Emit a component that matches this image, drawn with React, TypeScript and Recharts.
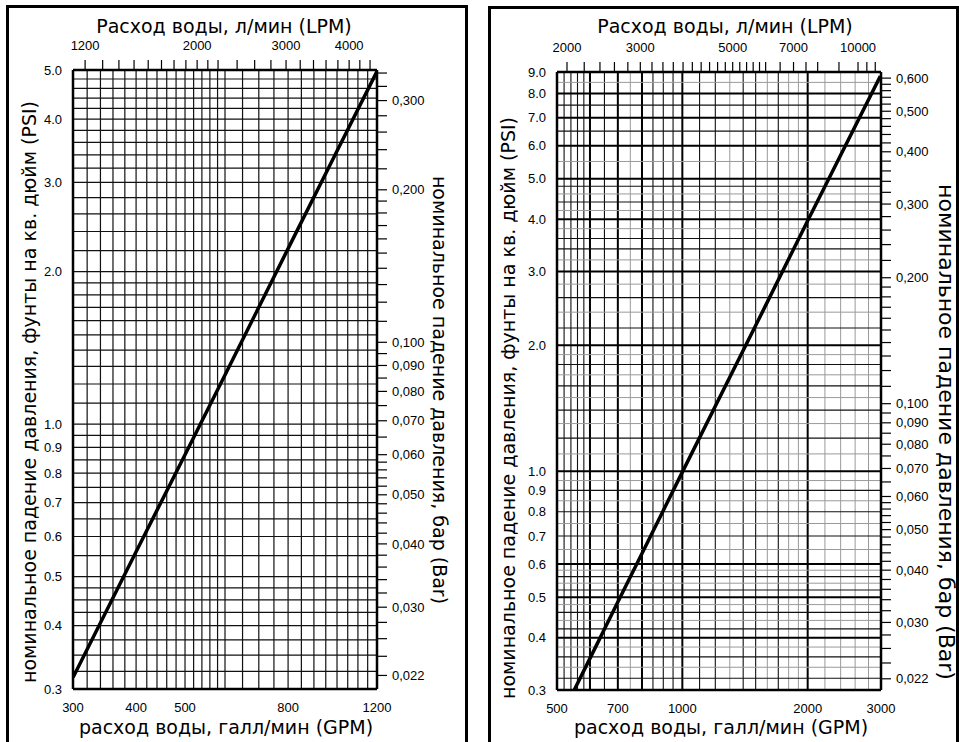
import React from 'react';
import { Line, LineChart, ReferenceLine, XAxis, YAxis } from 'recharts';

const LPM_PER_GPM = 3.785;
const BAR_PER_PSI = 0.0689476;

// ---- left chart (300–1200 GPM)
const flowA = [300, 400, 500, 600, 800, 1000, 1200];
const dropA = [0.316, 0.56, 0.87, 1.25, 2.22, 3.46, 4.97];
const gpmTicksA = [300, 400, 500, 800, 1200];
const psiTicksA = [0.3, 0.4, 0.5, 0.6, 0.7, 0.8, 0.9, 1.0, 2.0, 3.0, 4.0, 5.0];
const lpmTicksA = [
  1200, 1300, 1400, 1500, 1600, 1700, 1800, 1900, 2000, 2100, 2200, 2400, 2600, 2800, 3000,
  3200, 3400, 3600, 3800, 4000, 4200, 4400,
];
const lpmLabelsA = [1200, 2000, 3000, 4000];
const barTicksA = [
  0.022, 0.024, 0.026, 0.028, 0.03, 0.032, 0.034, 0.036, 0.038, 0.04, 0.042, 0.044, 0.046,
  0.048, 0.05, 0.052, 0.054, 0.056, 0.058, 0.06, 0.065, 0.07, 0.075, 0.08, 0.085, 0.09, 0.095,
  0.1, 0.11, 0.12, 0.13, 0.14, 0.15, 0.16, 0.17, 0.18, 0.19, 0.2, 0.22, 0.24, 0.26, 0.28, 0.3,
  0.32, 0.34,
];
const barLabelsA = [0.022, 0.03, 0.04, 0.05, 0.06, 0.07, 0.08, 0.09, 0.1, 0.2, 0.3];
const gridXA = [
  320, 340, 360, 380, 400, 420, 440, 460, 480, 500, 520, 540, 560, 580, 600, 650, 700, 750, 800,
  850, 900, 950, 1000, 1050, 1100, 1150,
];
const gridYA = [
  0.325, 0.35, 0.375, 0.4, 0.425, 0.45, 0.475, 0.5, 0.55, 0.6, 0.65, 0.7, 0.75, 0.8, 0.85, 0.9,
  0.95, 1.0, 1.1, 1.2, 1.3, 1.4, 1.5, 1.6, 1.7, 1.8, 1.9, 2.0, 2.2, 2.4, 2.6, 2.8, 3.0, 3.2, 3.4,
  3.6, 3.8, 4.0, 4.2, 4.4, 4.6, 4.8,
];

// ---- right chart (500–3000 GPM)
const flowB = [550, 600, 700, 800, 1000, 1500, 2000, 2990];
const dropB = [0.3, 0.357, 0.487, 0.636, 0.995, 2.23, 3.97, 8.8];
const gpmTicksB = [500, 700, 1000, 2000, 3000];
const psiTicksB = [0.3, 0.4, 0.5, 0.6, 0.7, 0.8, 0.9, 1.0, 2.0, 3.0, 4.0, 5.0, 6.0, 7.0, 8.0, 9.0];
const lpmTicksB = [
  2000, 2200, 2400, 2600, 2800, 3000, 3200, 3400, 3600, 3800, 4000, 4200, 4400, 4600, 4800,
  5000, 5200, 5400, 5600, 5800, 6000, 6500, 7000, 7500, 8000, 9000, 10000, 10500, 11000,
];
const lpmLabelsB = [2000, 3000, 5000, 7000, 10000];
const barTicksB = [
  0.022, 0.024, 0.026, 0.028, 0.03, 0.032, 0.034, 0.036, 0.038, 0.04, 0.042, 0.044, 0.046,
  0.048, 0.05, 0.052, 0.054, 0.056, 0.058, 0.06, 0.065, 0.07, 0.075, 0.08, 0.085, 0.09, 0.095,
  0.1, 0.11, 0.12, 0.13, 0.14, 0.15, 0.16, 0.17, 0.18, 0.19, 0.2, 0.22, 0.24, 0.26, 0.28, 0.3,
  0.32, 0.34, 0.36, 0.38, 0.4, 0.42, 0.44, 0.46, 0.48, 0.5, 0.52, 0.54, 0.56, 0.58, 0.6,
];
const barLabelsB = [0.022, 0.03, 0.04, 0.05, 0.06, 0.07, 0.08, 0.09, 0.1, 0.2, 0.3, 0.4, 0.5, 0.6];
const gridXBHeavy = [600, 700, 800, 1000, 2000];
const gridXBMid = [520, 540, 560, 580, 650, 850, 900, 950, 1100, 1200, 1400, 1500, 1700];
const gridXBLight = [750, 1300, 1600, 1800, 1900, 2200, 2400, 2600, 2800];
const gridYBHeavy = [0.4, 0.5, 0.6, 1.0, 2.0, 3.0, 4.0, 5.0, 6.0, 7.0, 8.0];
const gridYBMid = [
  0.32, 0.36, 0.42, 0.46, 0.52, 0.56, 0.7, 0.8, 0.9, 1.2, 1.4, 1.6, 1.8, 2.2, 2.6, 3.4, 3.6, 4.4,
  4.8, 6.5, 7.5,
];
const gridYBLight = [
  0.34, 0.38, 0.44, 0.48, 0.54, 0.58, 0.65, 0.75, 0.85, 0.95, 1.1, 1.3, 1.5, 1.7, 1.9, 2.4, 2.8,
  3.2, 3.8, 4.2, 4.6, 5.5, 8.5,
];

const tickFont = { fontSize: 13, fill: '#000', fontFamily: '"Liberation Sans", Arial, sans-serif' };
const topFont = { fontSize: 13, fill: '#000', fontFamily: '"Liberation Sans Narrow", "Liberation Sans", Arial, sans-serif' };
const titleFont: React.CSSProperties = {
  position: 'absolute',
  fontFamily: '"DejaVu Sans", Verdana, sans-serif',
  fontSize: 19,
  color: '#000',
  whiteSpace: 'nowrap',
  lineHeight: 1,
};
const border = { stroke: '#000', strokeWidth: 2.5 };
const tickStroke = { stroke: '#000', strokeWidth: 1.2 };

const fmt1 = (v: number) => v.toFixed(1);
const fmtBar = (labels: number[]) => (v: number) =>
  labels.some((l) => Math.abs(l - v) < 1e-9) ? v.toFixed(3).replace('.', ',') : '';
const fmtSome = (labels: number[]) => (v: number) => (labels.includes(v) ? String(v) : '');

type GridLine = { v: number; stroke: string; w: number };

function Panel(props: {
  width: number;
  margin: { top: number; right: number; bottom: number; left: number };
  leftWidth: number;
  flow: number[];
  drop: number[];
  gpmDomain: [number, number];
  psiDomain: [number, number];
  gpmTicks: number[];
  psiTicks: number[];
  lpmTicks: number[];
  lpmLabels: number[];
  barTicks: number[];
  barLabels: number[];
  vLines: GridLine[];
  hLines: GridLine[];
}) {
  const data = props.flow.map((g, i) => ({ gpm: g, lpm: g * LPM_PER_GPM, psi: props.drop[i] }));
  const [g0, g1] = props.gpmDomain;
  const [p0, p1] = props.psiDomain;
  return (
    <LineChart width={props.width} height={742} data={data} margin={props.margin}>
      {props.vLines.map((l) => (
        <ReferenceLine
          key={'v' + l.v}
          x={l.v}
          xAxisId="gpm"
          yAxisId="psi"
          stroke={l.stroke}
          strokeWidth={l.w}
        />
      ))}
      {props.hLines.map((l) => (
        <ReferenceLine
          key={'h' + l.v}
          y={l.v}
          xAxisId="gpm"
          yAxisId="psi"
          stroke={l.stroke}
          strokeWidth={l.w}
        />
      ))}
      {/* invisible twin so the LPM axis gets its own scale */}
      <Line
        xAxisId="lpm"
        yAxisId="psi"
        dataKey="psi"
        stroke="none"
        dot={false}
        activeDot={false}
        isAnimationActive={false}
      />
      <Line
        xAxisId="gpm"
        yAxisId="psi"
        dataKey="psi"
        type="linear"
        stroke="#000"
        strokeWidth={3.5}
        dot={false}
        isAnimationActive={false}
      />
      <XAxis
        xAxisId="gpm"
        dataKey="gpm"
        type="number"
        scale="log"
        domain={props.gpmDomain}
        allowDataOverflow
        ticks={props.gpmTicks}
        tick={tickFont}
        tickLine={false}
        tickSize={6}
        tickMargin={8}
        axisLine={border}
        height={30}
        interval={0}
      />
      <XAxis
        xAxisId="lpm"
        dataKey="lpm"
        orientation="top"
        type="number"
        scale="log"
        domain={[g0 * LPM_PER_GPM, g1 * LPM_PER_GPM]}
        allowDataOverflow
        ticks={props.lpmTicks}
        tickFormatter={fmtSome(props.lpmLabels)}
        tick={topFont}
        tickLine={tickStroke}
        tickSize={10}
        tickMargin={10}
        axisLine={border}
        height={30}
        interval={0}
      />
      <YAxis
        yAxisId="psi"
        type="number"
        scale="log"
        domain={props.psiDomain}
        allowDataOverflow
        ticks={props.psiTicks}
        tickFormatter={fmt1}
        tick={tickFont}
        tickLine={false}
        tickSize={6}
        tickMargin={5}
        axisLine={border}
        width={props.leftWidth}
        interval={0}
      />
      <YAxis
        yAxisId="bar"
        orientation="right"
        type="number"
        scale="log"
        domain={[p0 * BAR_PER_PSI, p1 * BAR_PER_PSI]}
        allowDataOverflow
        ticks={props.barTicks}
        tickFormatter={fmtBar(props.barLabels)}
        tick={tickFont}
        tickLine={tickStroke}
        tickSize={10}
        tickMargin={5}
        axisLine={border}
        width={60}
        interval={0}
      />
    </LineChart>
  );
}

const psiTitle = 'номинальное падение давления, фунты на кв. дюйм (PSI)';
const barTitle = 'номинальное падение давления, бар (Bar)';
const lpmTitle = 'Расход воды, л/мин (LPM)';
const gpmTitle = 'расход воды, галл/мин (GPM)';

function Rotated({
  text,
  x,
  y,
  angle,
  size = 19,
}: {
  text: string;
  x: number;
  y: number;
  angle: number;
  size?: number;
}) {
  return (
    <div
      style={{
        ...titleFont,
        fontSize: size,
        left: x,
        top: y,
        transform: `translate(-50%, -50%) rotate(${angle}deg)`,
      }}
    >
      {text}
    </div>
  );
}

function Centered({ text, x, y }: { text: string; x: number; y: number }) {
  return (
    <div style={{ ...titleFont, left: x, top: y, transform: 'translate(-50%, -50%)' }}>{text}</div>
  );
}

export default function App() {
  const lineA = (v: number): GridLine => ({ v, stroke: '#111', w: 1.2 });
  const vA = gridXA.map(lineA);
  const hA = gridYA.map(lineA);
  const vB = [
    ...gridXBLight.map((v) => ({ v, stroke: '#9a9a9a', w: 1 })),
    ...gridXBMid.map((v) => ({ v, stroke: '#111', w: 1.1 })),
    ...gridXBHeavy.map((v) => ({ v, stroke: '#000', w: 2 })),
  ];
  const hB = [
    ...gridYBLight.map((v) => ({ v, stroke: '#9a9a9a', w: 1 })),
    ...gridYBMid.map((v) => ({ v, stroke: '#111', w: 1.1 })),
    ...gridYBHeavy.map((v) => ({ v, stroke: '#000', w: 2 })),
  ];
  return (
    <div
      style={{
        position: 'fixed',
        left: 0,
        top: 0,
        width: 959,
        height: 742,
        background: '#fff',
        overflow: 'hidden',
      }}
    >
      <div
        style={{
          position: 'absolute',
          left: 6,
          top: 5,
          width: 456,
          height: 760,
          border: '3px solid #000',
        }}
      />
      <div
        style={{
          position: 'absolute',
          left: 488,
          top: 6,
          width: 465,
          height: 760,
          border: '3px solid #000',
        }}
      />
      <div style={{ position: 'absolute', left: 0, top: 0 }}>
        <Panel
          width={480}
          margin={{ top: 40, right: 43, bottom: 23, left: 0 }}
          leftWidth={73}
          flow={flowA}
          drop={dropA}
          gpmDomain={[300, 1200]}
          psiDomain={[0.3, 5]}
          gpmTicks={gpmTicksA}
          psiTicks={psiTicksA}
          lpmTicks={lpmTicksA}
          lpmLabels={lpmLabelsA}
          barTicks={barTicksA}
          barLabels={barLabelsA}
          vLines={vA}
          hLines={hA}
        />
      </div>
      <div style={{ position: 'absolute', left: 480, top: 0 }}>
        <Panel
          width={479}
          margin={{ top: 42, right: 18, bottom: 22, left: 0 }}
          leftWidth={77}
          flow={flowB}
          drop={dropB}
          gpmDomain={[500, 3000]}
          psiDomain={[0.3, 9]}
          gpmTicks={gpmTicksB}
          psiTicks={psiTicksB}
          lpmTicks={lpmTicksB}
          lpmLabels={lpmLabelsB}
          barTicks={barTicksB}
          barLabels={barLabelsB}
          vLines={vB}
          hLines={hB}
        />
      </div>
      <Centered text={lpmTitle} x={224} y={26} />
      <Centered text={lpmTitle} x={725} y={26} />
      <Centered text={gpmTitle} x={226} y={727} />
      <Centered text={gpmTitle} x={721} y={727} />
      <Rotated text={psiTitle} x={29} y={392} angle={-90} />
      <Rotated text={psiTitle} x={508} y={408} angle={-90} />
      <Rotated text={barTitle} x={439} y={390} angle={90} />
      <Rotated text={barTitle} x={946} y={432} angle={90} size={22} />
    </div>
  );
}
